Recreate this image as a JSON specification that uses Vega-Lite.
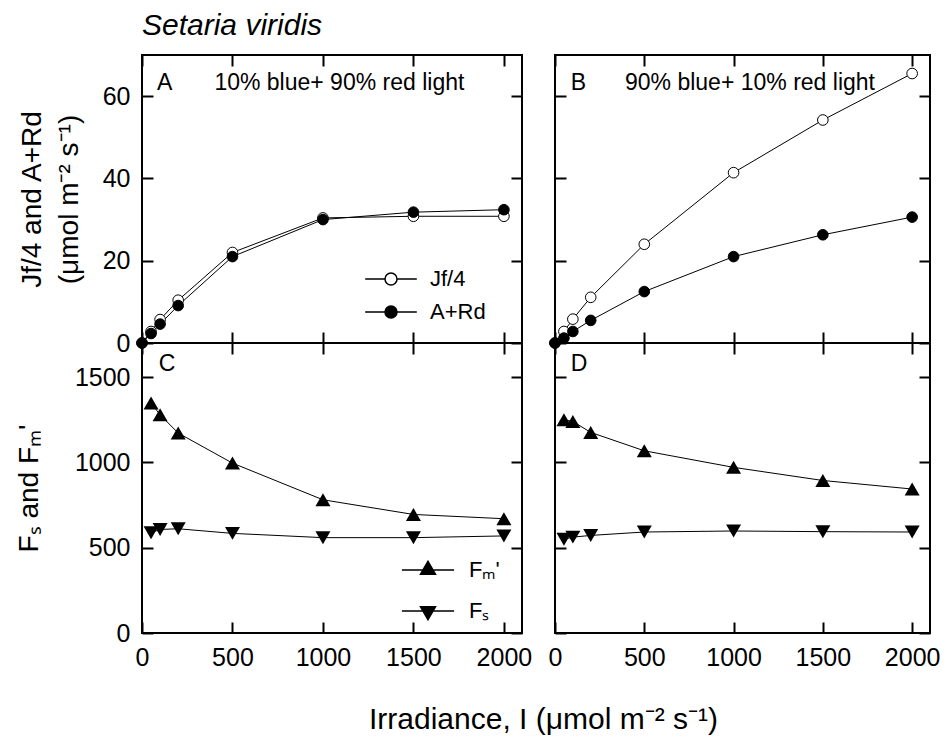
{
  "$schema": "https://vega.github.io/schema/vega-lite/v6.json",
  "background": "white",
  "padding": {"left": 14, "top": 11, "right": 5, "bottom": 5},
  "bounds": "flush",
  "columns": 2,
  "spacing": {"row": 0, "column": 33},
  "title": {"text": "Setaria viridis", "anchor": "start", "frame": "group", "fontSize": 30, "fontStyle": "italic", "fontWeight": "normal", "color": "black", "offset": 12},
  "datasets": {
    "top": [
      {"panel": "A", "irr": 0, "series": "Jf/4", "value": 0},
      {"panel": "A", "irr": 50, "series": "Jf/4", "value": 2.8},
      {"panel": "A", "irr": 100, "series": "Jf/4", "value": 5.7},
      {"panel": "A", "irr": 200, "series": "Jf/4", "value": 10.4},
      {"panel": "A", "irr": 500, "series": "Jf/4", "value": 22.0},
      {"panel": "A", "irr": 1000, "series": "Jf/4", "value": 30.4},
      {"panel": "A", "irr": 1500, "series": "Jf/4", "value": 30.8},
      {"panel": "A", "irr": 2000, "series": "Jf/4", "value": 30.8},
      {"panel": "A", "irr": 0, "series": "A+Rd", "value": 0},
      {"panel": "A", "irr": 50, "series": "A+Rd", "value": 2.3},
      {"panel": "A", "irr": 100, "series": "A+Rd", "value": 4.6},
      {"panel": "A", "irr": 200, "series": "A+Rd", "value": 9.1},
      {"panel": "A", "irr": 500, "series": "A+Rd", "value": 21.0},
      {"panel": "A", "irr": 1000, "series": "A+Rd", "value": 30.0},
      {"panel": "A", "irr": 1500, "series": "A+Rd", "value": 31.8},
      {"panel": "A", "irr": 2000, "series": "A+Rd", "value": 32.4},
      {"panel": "B", "irr": 0, "series": "Jf/4", "value": 0},
      {"panel": "B", "irr": 50, "series": "Jf/4", "value": 2.8},
      {"panel": "B", "irr": 100, "series": "Jf/4", "value": 5.8},
      {"panel": "B", "irr": 200, "series": "Jf/4", "value": 11.1},
      {"panel": "B", "irr": 500, "series": "Jf/4", "value": 24.0},
      {"panel": "B", "irr": 1000, "series": "Jf/4", "value": 41.4},
      {"panel": "B", "irr": 1500, "series": "Jf/4", "value": 54.2},
      {"panel": "B", "irr": 2000, "series": "Jf/4", "value": 65.5},
      {"panel": "B", "irr": 0, "series": "A+Rd", "value": 0},
      {"panel": "B", "irr": 50, "series": "A+Rd", "value": 1.2},
      {"panel": "B", "irr": 100, "series": "A+Rd", "value": 2.8},
      {"panel": "B", "irr": 200, "series": "A+Rd", "value": 5.5},
      {"panel": "B", "irr": 500, "series": "A+Rd", "value": 12.5},
      {"panel": "B", "irr": 1000, "series": "A+Rd", "value": 21.0},
      {"panel": "B", "irr": 1500, "series": "A+Rd", "value": 26.3},
      {"panel": "B", "irr": 2000, "series": "A+Rd", "value": 30.6}
    ],
    "bottom": [
      {"panel": "C", "irr": 50, "series": "Fₘ'", "value": 1348},
      {"panel": "C", "irr": 100, "series": "Fₘ'", "value": 1279},
      {"panel": "C", "irr": 200, "series": "Fₘ'", "value": 1172},
      {"panel": "C", "irr": 500, "series": "Fₘ'", "value": 996},
      {"panel": "C", "irr": 1000, "series": "Fₘ'", "value": 781},
      {"panel": "C", "irr": 1500, "series": "Fₘ'", "value": 695},
      {"panel": "C", "irr": 2000, "series": "Fₘ'", "value": 670},
      {"panel": "C", "irr": 50, "series": "Fₛ", "value": 588},
      {"panel": "C", "irr": 100, "series": "Fₛ", "value": 607},
      {"panel": "C", "irr": 200, "series": "Fₛ", "value": 611},
      {"panel": "C", "irr": 500, "series": "Fₛ", "value": 584},
      {"panel": "C", "irr": 1000, "series": "Fₛ", "value": 559},
      {"panel": "C", "irr": 1500, "series": "Fₛ", "value": 559},
      {"panel": "C", "irr": 2000, "series": "Fₛ", "value": 569},
      {"panel": "D", "irr": 50, "series": "Fₘ'", "value": 1250},
      {"panel": "D", "irr": 100, "series": "Fₘ'", "value": 1240},
      {"panel": "D", "irr": 200, "series": "Fₘ'", "value": 1176},
      {"panel": "D", "irr": 500, "series": "Fₘ'", "value": 1068},
      {"panel": "D", "irr": 1000, "series": "Fₘ'", "value": 971},
      {"panel": "D", "irr": 1500, "series": "Fₘ'", "value": 894},
      {"panel": "D", "irr": 2000, "series": "Fₘ'", "value": 844},
      {"panel": "D", "irr": 50, "series": "Fₛ", "value": 549},
      {"panel": "D", "irr": 100, "series": "Fₛ", "value": 562},
      {"panel": "D", "irr": 200, "series": "Fₛ", "value": 572},
      {"panel": "D", "irr": 500, "series": "Fₛ", "value": 592},
      {"panel": "D", "irr": 1000, "series": "Fₛ", "value": 598},
      {"panel": "D", "irr": 1500, "series": "Fₛ", "value": 594},
      {"panel": "D", "irr": 2000, "series": "Fₛ", "value": 592}
    ]
  },
  "concat": [
    {
      "width": 380, "height": 288,
      "layer": [
        {
          "data": {"name": "top"},
          "transform": [{"filter": "datum.panel === 'A'"}],
          "mark": {"type": "line", "color": "black", "strokeWidth": 1},
          "encoding": {
            "x": {"field": "irr", "type": "quantitative", "scale": {"domain": [0, 2100], "nice": false}, "axis": {"orient": "top", "offset": -288, "values": [0, 500, 1000, 1500, 2000], "labels": false, "title": null}},
            "y": {"field": "value", "type": "quantitative", "scale": {"domain": [0, 70], "nice": false}, "axis": {"orient": "left", "ticks": false, "format": "d", "labelPadding": 12, "values": [0, 20, 40, 60], "title": ["Jf/4 and A+Rd", "(μmol m⁻² s⁻¹)"], "titlePadding": 19, "titleLineHeight": 37}},
            "detail": {"field": "series"},
            "order": {"field": "irr", "type": "quantitative"}
          }
        },
        {
          "data": {"name": "top"},
          "transform": [{"filter": "datum.panel === 'A'"}],
          "mark": {"type": "point", "shape": "circle", "size": 113, "stroke": "black", "strokeWidth": 1, "opacity": 1},
          "encoding": {
            "x": {"field": "irr", "type": "quantitative", "axis": {"orient": "bottom", "offset": -288, "values": [0, 500, 1000, 1500, 2000], "labels": false, "title": null}},
            "y": {"field": "value", "type": "quantitative", "axis": {"orient": "right", "offset": -380, "values": [0, 20, 40, 60], "labels": false, "title": null}},
            "fill": {"field": "series", "type": "nominal", "scale": {"domain": ["Jf/4", "A+Rd"], "range": ["white", "black"]},
              "legend": {"orient": "none", "legendX": 238, "legendY": 213, "title": null, "padding": 0, "symbolSize": 144, "labelFontSize": 22, "labelColor": "black", "labelOffset": 28, "rowPadding": 11,
                "symbolType": "M-4.3,0L-1,0M1,0L4.3,0M-1,0A1,1 0 1,0 1,0A1,1 0 1,0 -1,0",
                "encode": {"symbols": {"stroke": {"value": "black"}, "strokeWidth": {"value": 1}, "opacity": {"value": 1}}}}}
          }
        },
        {
          "data": {"values": [{}]},
          "mark": {"type": "text", "text": "A", "align": "left", "baseline": "middle", "fontSize": 23, "color": "black"},
          "encoding": {"x": {"datum": 83, "type": "quantitative", "axis": null}, "y": {"datum": 63.2, "type": "quantitative", "axis": {"orient": "left", "offset": -380, "values": [0, 20, 40, 60], "labels": false, "title": null}}}
        },
        {
          "data": {"values": [{}]},
          "mark": {"type": "text", "text": "10% blue+ 90% red light", "align": "left", "baseline": "middle", "fontSize": 23, "color": "black"},
          "encoding": {"x": {"datum": 400, "type": "quantitative", "axis": null}, "y": {"datum": 63.3, "type": "quantitative", "axis": null}}
        }
      ],
      "resolve": {"axis": {"x": "independent", "y": "independent"}}
    },
    {
      "width": 375, "height": 288,
      "layer": [
        {
          "data": {"name": "top"},
          "transform": [{"filter": "datum.panel === 'B'"}],
          "mark": {"type": "line", "color": "black", "strokeWidth": 1},
          "encoding": {
            "x": {"field": "irr", "type": "quantitative", "scale": {"domain": [0, 2100], "nice": false}, "axis": {"orient": "top", "offset": -288, "values": [0, 500, 1000, 1500, 2000], "labels": false, "title": null}},
            "y": {"field": "value", "type": "quantitative", "scale": {"domain": [0, 70], "nice": false}, "axis": {"orient": "right", "offset": -375, "values": [0, 20, 40, 60], "labels": false, "title": null}},
            "detail": {"field": "series"},
            "order": {"field": "irr", "type": "quantitative"}
          }
        },
        {
          "data": {"name": "top"},
          "transform": [{"filter": "datum.panel === 'B'"}],
          "mark": {"type": "point", "shape": "circle", "size": 113, "stroke": "black", "strokeWidth": 1, "opacity": 1},
          "encoding": {
            "x": {"field": "irr", "type": "quantitative", "axis": {"orient": "bottom", "offset": -288, "values": [0, 500, 1000, 1500, 2000], "labels": false, "title": null}},
            "y": {"field": "value", "type": "quantitative", "axis": {"orient": "left", "offset": -375, "values": [0, 20, 40, 60], "labels": false, "title": null}},
            "fill": {"field": "series", "type": "nominal", "scale": {"domain": ["Jf/4", "A+Rd"], "range": ["white", "black"]}, "legend": null}
          }
        },
        {
          "data": {"values": [{}]},
          "mark": {"type": "text", "text": "B", "align": "left", "baseline": "middle", "fontSize": 23, "color": "black"},
          "encoding": {"x": {"datum": 88, "type": "quantitative", "axis": null}, "y": {"datum": 63.2, "type": "quantitative", "axis": null}}
        },
        {
          "data": {"values": [{}]},
          "mark": {"type": "text", "text": "90% blue+ 10% red light", "align": "left", "baseline": "middle", "fontSize": 23, "color": "black"},
          "encoding": {"x": {"datum": 392, "type": "quantitative", "axis": null}, "y": {"datum": 63.3, "type": "quantitative", "axis": null}}
        }
      ],
      "resolve": {"axis": {"x": "independent", "y": "independent"}}
    },
    {
      "width": 380, "height": 290,
      "layer": [
        {
          "data": {"name": "bottom"},
          "transform": [{"filter": "datum.panel === 'C'"}],
          "mark": {"type": "line", "color": "black", "strokeWidth": 1},
          "encoding": {
            "x": {"field": "irr", "type": "quantitative", "scale": {"domain": [0, 2100], "nice": false}, "axis": {"orient": "bottom", "ticks": false, "format": "d", "labelPadding": 12, "values": [0, 500, 1000, 1500, 2000], "title": "Irradiance, I (μmol m⁻² s⁻¹)", "titleX": 401, "titleY": 95, "titleAlign": "center", "titleBaseline": "alphabetic", "titleFontSize": 30}},
            "y": {"field": "value", "type": "quantitative", "scale": {"domain": [0, 1700], "nice": false}, "axis": {"orient": "left", "ticks": false, "format": "d", "labelPadding": 12, "values": [0, 500, 1000, 1500], "title": "Fₛ and Fₘ'", "titlePadding": 31}},
            "detail": {"field": "series"},
            "order": {"field": "irr", "type": "quantitative"}
          }
        },
        {
          "data": {"name": "bottom"},
          "transform": [{"filter": "datum.panel === 'C' && datum.series === 'Fₘ\\''"}],
          "mark": {"type": "point", "shape": "triangle-up", "size": 225, "filled": true, "color": "black", "opacity": 1},
          "encoding": {
            "x": {"field": "irr", "type": "quantitative", "axis": {"orient": "top", "offset": -290, "values": [0, 500, 1000, 1500, 2000], "labels": false, "title": null}},
            "y": {"field": "value", "type": "quantitative", "axis": {"orient": "right", "offset": -380, "values": [0, 500, 1000, 1500], "labels": false, "title": null}}
          }
        },
        {
          "data": {"name": "bottom"},
          "transform": [{"filter": "datum.panel === 'C' && datum.series === 'Fₛ'"}],
          "mark": {"type": "point", "shape": "triangle-down", "size": 225, "filled": true, "color": "black", "opacity": 1},
          "encoding": {
            "x": {"field": "irr", "type": "quantitative", "axis": {"orient": "bottom", "offset": -290, "values": [0, 500, 1000, 1500, 2000], "labels": false, "title": null}},
            "y": {"field": "value", "type": "quantitative", "axis": {"orient": "left", "offset": -380, "values": [0, 500, 1000, 1500], "labels": false, "title": null}}
          }
        },
        {
          "data": {"name": "bottom"},
          "transform": [{"filter": "false"}],
          "mark": {"type": "point", "size": 144, "filled": false, "fill": "black", "stroke": "black", "strokeWidth": 1, "opacity": 1},
          "encoding": {
            "x": {"field": "irr", "type": "quantitative", "axis": null},
            "y": {"field": "value", "type": "quantitative", "axis": null},
            "shape": {"field": "series", "type": "nominal", "scale": {"domain": ["Fₘ'", "Fₛ"], "range": ["M-4.35,0L4.35,0M0,-1.44L1.25,0.72L-1.25,0.72Z", "M-4.35,0L4.35,0M0,1.44L1.25,-0.72L-1.25,-0.72Z"]},
              "legend": {"orient": "none", "legendX": 275, "legendY": 216, "title": null, "padding": 0, "symbolSize": 144, "labelFontSize": 22, "labelColor": "black", "labelOffset": 30, "rowPadding": 19,
                "encode": {"symbols": {"fill": {"value": "black"}, "stroke": {"value": "black"}, "strokeWidth": {"value": 1}, "opacity": {"value": 1}}}}}
          }
        },
        {
          "data": {"values": [{}]},
          "mark": {"type": "text", "text": "C", "align": "left", "baseline": "middle", "fontSize": 23, "color": "black"},
          "encoding": {"x": {"datum": 92, "type": "quantitative", "axis": null}, "y": {"datum": 1578, "type": "quantitative", "axis": null}}
        }
      ],
      "resolve": {"axis": {"x": "independent", "y": "independent"}}
    },
    {
      "width": 375, "height": 290,
      "layer": [
        {
          "data": {"name": "bottom"},
          "transform": [{"filter": "datum.panel === 'D'"}],
          "mark": {"type": "line", "color": "black", "strokeWidth": 1},
          "encoding": {
            "x": {"field": "irr", "type": "quantitative", "scale": {"domain": [0, 2100], "nice": false}, "axis": {"orient": "bottom", "ticks": false, "format": "d", "labelPadding": 12, "values": [0, 500, 1000, 1500, 2000], "title": null}},
            "y": {"field": "value", "type": "quantitative", "scale": {"domain": [0, 1700], "nice": false}, "axis": {"orient": "right", "offset": -375, "values": [0, 500, 1000, 1500], "labels": false, "title": null}},
            "detail": {"field": "series"},
            "order": {"field": "irr", "type": "quantitative"}
          }
        },
        {
          "data": {"name": "bottom"},
          "transform": [{"filter": "datum.panel === 'D' && datum.series === 'Fₘ\\''"}],
          "mark": {"type": "point", "shape": "triangle-up", "size": 225, "filled": true, "color": "black", "opacity": 1},
          "encoding": {
            "x": {"field": "irr", "type": "quantitative", "axis": {"orient": "top", "offset": -290, "values": [0, 500, 1000, 1500, 2000], "labels": false, "title": null}},
            "y": {"field": "value", "type": "quantitative", "axis": {"orient": "left", "offset": -375, "values": [0, 500, 1000, 1500], "labels": false, "title": null}}
          }
        },
        {
          "data": {"name": "bottom"},
          "transform": [{"filter": "datum.panel === 'D' && datum.series === 'Fₛ'"}],
          "mark": {"type": "point", "shape": "triangle-down", "size": 225, "filled": true, "color": "black", "opacity": 1},
          "encoding": {
            "x": {"field": "irr", "type": "quantitative", "axis": {"orient": "bottom", "offset": -290, "values": [0, 500, 1000, 1500, 2000], "labels": false, "title": null}},
            "y": {"field": "value", "type": "quantitative", "axis": null}
          }
        },
        {
          "data": {"values": [{}]},
          "mark": {"type": "text", "text": "D", "align": "left", "baseline": "middle", "fontSize": 23, "color": "black"},
          "encoding": {"x": {"datum": 88, "type": "quantitative", "axis": null}, "y": {"datum": 1578, "type": "quantitative", "axis": null}}
        }
      ],
      "resolve": {"axis": {"x": "independent", "y": "independent"}}
    }
  ],
  "resolve": {"scale": {"fill": "independent", "shape": "independent"}, "legend": {"fill": "independent", "shape": "independent"}},
  "config": {
    "font": "Liberation Sans",
    "view": {"stroke": "black", "strokeWidth": 2},
    "axis": {"domain": false, "grid": false, "tickSize": 11, "tickWidth": 2, "tickColor": "black", "labelFlush": false, "labelOverlap": false, "labelFontSize": 25, "labelColor": "black", "labelFont": "Liberation Sans", "titleFont": "Liberation Sans", "titleFontSize": 28, "titleFontWeight": "normal", "titleColor": "black"},
    "legend": {"labelFont": "Liberation Sans"}
  }
}
